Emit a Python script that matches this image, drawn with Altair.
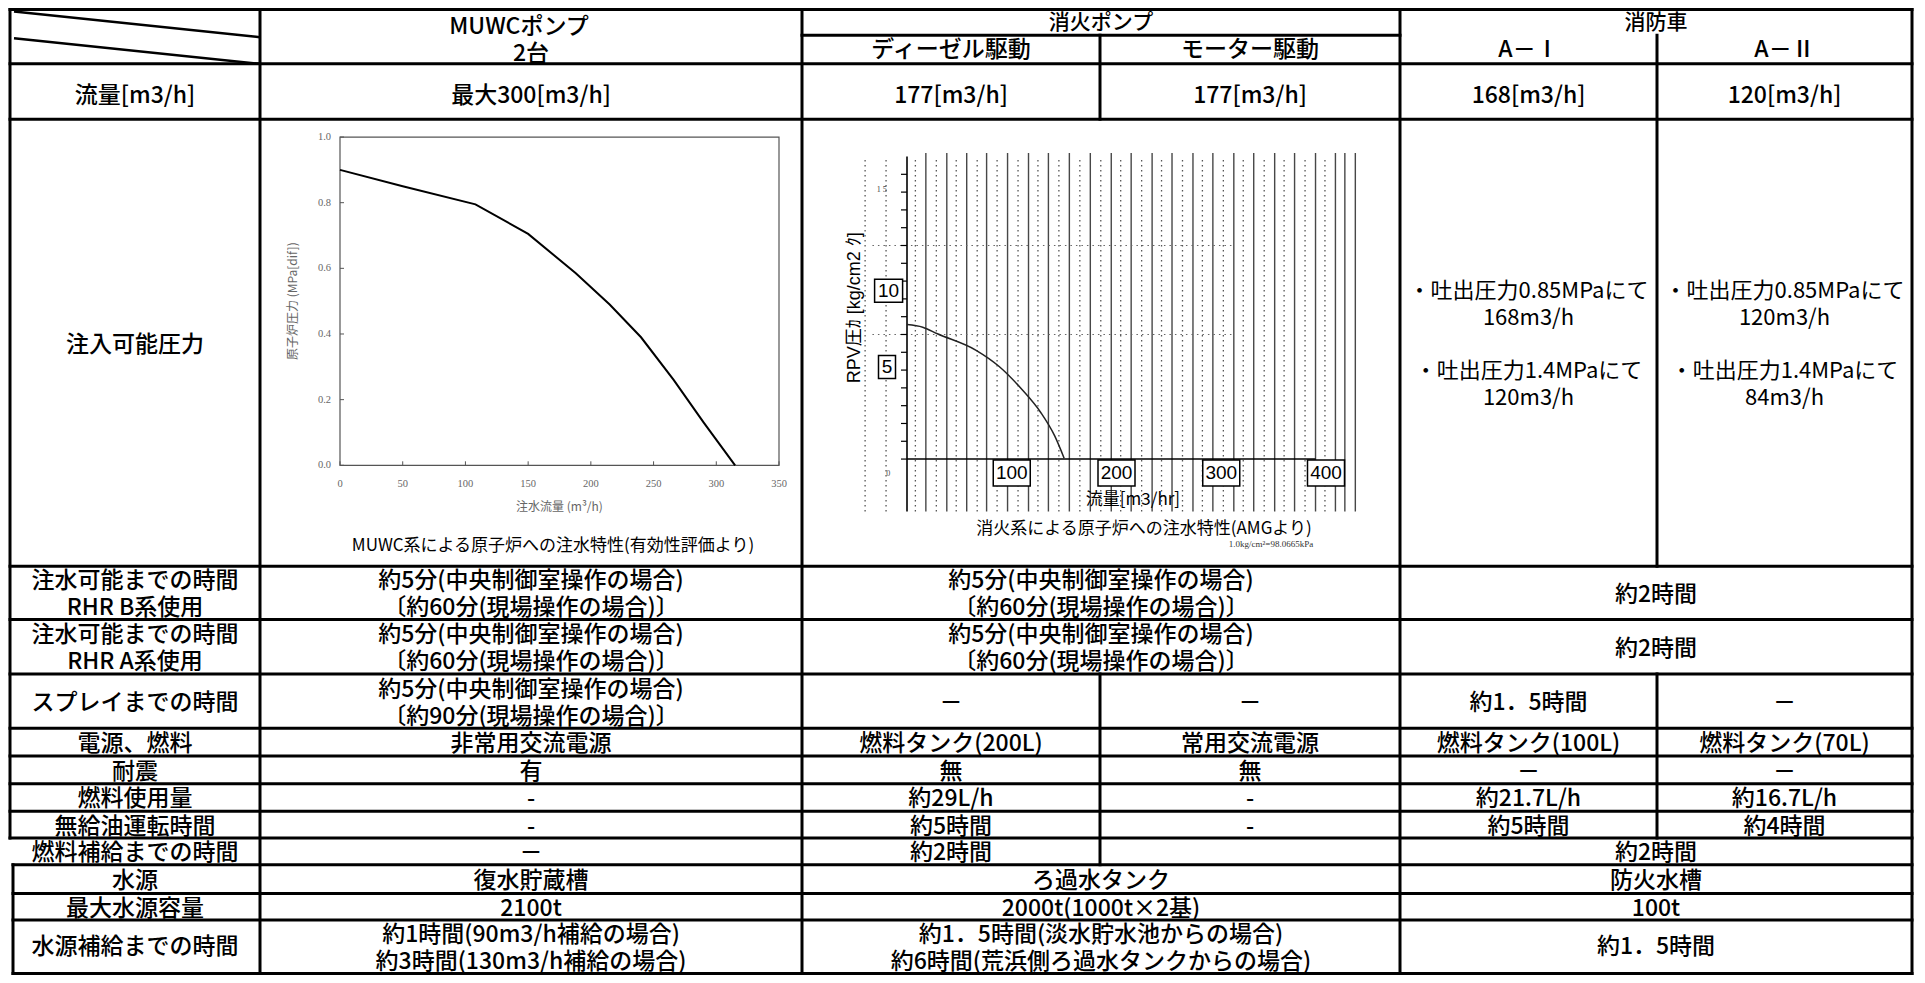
import altair as alt
import pandas as pd

# ================= values =================
# MUWC pump injection characteristic
muwc_flow = [0, 50, 108, 150, 188, 215, 240, 266, 290, 315]
muwc_press = [0.90, 0.85, 0.795, 0.705, 0.585, 0.49, 0.39, 0.26, 0.13, 0.0]
muwc_xticks = [0, 50, 100, 150, 200, 250, 300, 350]
muwc_yticks = [0.0, 0.2, 0.4, 0.6, 0.8, 1.0]
muwc_xtitle = "注水流量 (m³/h)"
muwc_ytitle = "原子炉圧力 (MPa[dif])"
muwc_caption = "MUWC系による原子炉への注水特性(有効性評価より)"

# fire pump injection characteristic (AMG)
fp_flow = [0, 15, 29, 66, 88, 110, 128, 141, 150]
fp_press = [7.56, 7.41, 7.04, 6.11, 5.2, 3.89, 2.59, 1.3, 0.05]
fp_xlabels = [100, 200, 300, 400]
fp_ylabel_hi = [10]
fp_ylabel_lo = [5]
fp_yticks = [0, 1, 2, 3, 4, 5, 6, 7, 8, 9, 10, 11, 12, 13, 14, 15, 16]
fp_grid_solid = [18, 38, 57, 76, 96, 116, 135, 155, 175, 195, 214, 234, 253,
                 273, 292, 312, 331, 351, 370, 390, 409, 418, 428]
fp_grid_dotted = [-40, -20, 8, 28, 47, 67, 86, 106, 125, 145, 165, 185, 204,
                  224, 243, 263, 282, 302, 321, 341, 360, 380, 399]
fp_hdotted = [12, 7]
fp_ytitle = "RPV圧ｶ  [kg/cm2 ｸ]"
fp_xtitle = "流量[m3/hr]"
fp_caption = "消火系による原子炉への注水特性(AMGより)"
fp_note = "1.0kg/cm²=98.0665kPa"

# table texts
head_top = ["MUWCポンプ", "2台", "消火ポンプ", "消防車"]
head_sub = ["ディーゼル駆動", "モーター駆動", "A－Ⅰ", "A－Ⅱ"]
row_titles = ["流量[m3/h]", "注入可能圧力", "注水可能までの時間\nRHR B系使用",
              "注水可能までの時間\nRHR A系使用", "スプレイまでの時間", "電源、燃料", "耐震",
              "燃料使用量", "無給油運転時間", "燃料補給までの時間", "水源", "最大水源容量",
              "水源補給までの時間"]
t60 = "約5分(中央制御室操作の場合)\n〔約60分(現場操作の場合)〕"
t90 = "約5分(中央制御室操作の場合)\n〔約90分(現場操作の場合)〕"
cells = [
    [("muwc", "最大300[m3/h]"), ("dsl", "177[m3/h]"), ("mot", "177[m3/h]"),
     ("a1", "168[m3/h]"), ("a2", "120[m3/h]")],
    [],
    [("muwc", t60), ("fp", t60), ("fe", "約2時間")],
    [("muwc", t60), ("fp", t60), ("fe", "約2時間")],
    [("muwc", t90), ("dsl", "－"), ("mot", "－"), ("a1", "約1．5時間"), ("a2", "－")],
    [("muwc", "非常用交流電源"), ("dsl", "燃料タンク(200L)"), ("mot", "常用交流電源"),
     ("a1", "燃料タンク(100L)"), ("a2", "燃料タンク(70L)")],
    [("muwc", "有"), ("dsl", "無"), ("mot", "無"), ("a1", "－"), ("a2", "－")],
    [("muwc", "-"), ("dsl", "約29L/h"), ("mot", "-"), ("a1", "約21.7L/h"), ("a2", "約16.7L/h")],
    [("muwc", "-"), ("dsl", "約5時間"), ("mot", "-"), ("a1", "約5時間"), ("a2", "約4時間")],
    [("muwc", "－"), ("dsl", "約2時間"), ("fe", "約2時間")],
    [("muwc", "復水貯蔵槽"), ("fp", "ろ過水タンク"), ("fe", "防火水槽")],
    [("muwc", "2100t"), ("fp", "2000t(1000t×2基)"), ("fe", "100t")],
    [("muwc", "約1時間(90m3/h補給の場合)\n約3時間(130m3/h補給の場合)"),
     ("fp", "約1．5時間(淡水貯水池からの場合)\n約6時間(荒浜側ろ過水タンクからの場合)"),
     ("fe", "約1．5時間")],
]
press_a1 = ["・吐出圧力0.85MPaにて\n168m3/h", "・吐出圧力1.4MPaにて\n120m3/h"]
press_a2 = ["・吐出圧力0.85MPaにて\n120m3/h", "・吐出圧力1.4MPaにて\n84m3/h"]

# ================= layout (reference pixel grid) =================
W, H = 1909, 967
X0 = 8.0
Y0, Y1 = 5.5, 983.5
LH = 27


def vx(r):
    return r - X0


def vy(r):
    return (r - Y0) * H / (Y1 - Y0)


XL, XLB, C1, C2, C3, C4, C5, XR = 10, 13, 260, 802, 1100, 1400, 1657, 1912
YT, YH1, YH2 = 7, 33, 62
ROWS = [62, 118, 570, 624, 679, 734, 762, 790, 818, 845, 872, 901, 928, 982]
ROW_SHIFT = [5, 2, 2, 2, 2, 2, 2, 2, 2, 2, 2, 2, 0]
MULTI_SHIFT = [0, 0, 0, 0, 0, 0, 0, 0, 0, 0, 0, 0, 2]
SPAN = {"lab": (XL, C1), "muwc": (C1, C2), "fp": (C2, C4), "dsl": (C2, C3),
        "mot": (C3, C4), "fe": (C4, XR), "a1": (C4, C5), "a2": (C5, XR)}


def first_line(yc, t, extra):
    # y of the first line so that a multi-line block is centred on yc
    n = t.count("\n")
    return yc - n * LH / 2 + (extra if n else 0)


segs = []
segs.append((XL, YT, XR, YT))
segs.append((C2, YH1, C4, YH1))
for yy in ROWS:
    segs.append((XLB if yy >= 872 else XL, yy, XR, yy))
segs.append((XL, YT, XL, 845))
segs.append((XLB, 872, XLB, 982))
for xx in (C1, C2, C4, XR):
    segs.append((xx, YT, xx, 982))
segs.append((C3, YH1, C3, 118))
segs.append((C3, 679, C3, 872))
segs.append((C5, YH1, C5, 570))
segs.append((C5, 679, C5, 845))
seg_df = pd.DataFrame(segs, columns=["x", "y", "x2", "y2"])
diag_df = pd.DataFrame([(XL + 4, 9, C1, 35), (XL + 4, 36, C1, 62)],
                       columns=["x", "y", "x2", "y2"])

txt = []
txt.append((519, 25, head_top[0]))
txt.append(((C1 + C2) / 2, 52, head_top[1]))
for key, t in zip(["dsl", "mot", "a1", "a2"], head_sub):
    a, b = SPAN[key]
    txt.append(((a + b) / 2, 48, t))
for i, title in enumerate(row_titles):
    yc = (ROWS[i] + ROWS[i + 1]) / 2 + ROW_SHIFT[i]
    txt.append(((XL + C1) / 2, first_line(yc, title, MULTI_SHIFT[i]), title))
    for key, t in cells[i]:
        a, b = SPAN[key]
        txt.append(((a + b) / 2, first_line(yc, t, MULTI_SHIFT[i]), t))
txt_df = pd.DataFrame(txt, columns=["x", "y", "t"])
top_df = pd.DataFrame([((C2 + C4) / 2, 21, head_top[2]), ((C4 + XR) / 2, 21, head_top[3])],
                      columns=["x", "y", "t"])

press_rows = []
for (a, b), blocks in (((C4, C5), press_a1), ((C5, XR), press_a2)):
    press_rows.append(((a + b) / 2, 292, blocks[0]))
    press_rows.append(((a + b) / 2, 373, blocks[1]))
press_df = pd.DataFrame(press_rows, columns=["x", "y", "t"])
cap_df = pd.DataFrame([(553, 550, muwc_caption), (1144, 532, fp_caption)],
                      columns=["x", "y", "t"])
note_df = pd.DataFrame([(1271, 548, fp_note)], columns=["x", "y", "t"])

# ================= table layer =================
tx = alt.Scale(domain=[X0, X0 + W], range=[0, W], nice=False, zero=False)
ty = alt.Scale(domain=[Y0, Y1], range=[0, H], nice=False, zero=False)


def txy():
    return dict(x=alt.X("x:Q", scale=tx, axis=None), y=alt.Y("y:Q", scale=ty, axis=None))


JP = "Noto Sans CJK JP"
rules = alt.Chart(seg_df).mark_rule(color="black", strokeWidth=3, strokeCap="square").encode(
    x2="x2:Q", y2="y2:Q", **txy())
diags = alt.Chart(diag_df).mark_rule(color="black", strokeWidth=2.5).encode(
    x2="x2:Q", y2="y2:Q", **txy())
texts = alt.Chart(txt_df).mark_text(font=JP, fontSize=23, fontWeight=500, lineBreak="\n",
                                    lineHeight=LH, baseline="middle", align="center",
                                    color="black").encode(text="t:N", **txy())
tops = alt.Chart(top_df).mark_text(font=JP, fontSize=21, fontWeight=500, baseline="middle",
                                   align="center", color="black").encode(text="t:N", **txy())
press = alt.Chart(press_df).mark_text(font=JP, fontSize=22, lineBreak="\n", lineHeight=LH,
                                      baseline="middle", align="center", color="black").encode(
    text="t:N", **txy())
caps = alt.Chart(cap_df).mark_text(font=JP, fontSize=17, baseline="middle", align="center",
                                   color="black").encode(text="t:N", **txy())
note = alt.Chart(note_df).mark_text(font="Liberation Serif", fontSize=9, baseline="middle",
                                    align="center", color="#333").encode(text="t:N", **txy())
table = alt.layer(rules, diags, texts, tops, press, caps, note)

# ================= MUWC chart layer =================
mx = alt.Scale(domain=[0, 350], range=[vx(340), vx(779)], nice=False, zero=False)
my = alt.Scale(domain=[0, 1], range=[vy(468), vy(136)], nice=False, zero=False)


def mxy(xf, yf):
    return dict(x=alt.X(xf, scale=mx, axis=None), y=alt.Y(yf, scale=my, axis=None))


muwc_df = pd.DataFrame({"flow": muwc_flow, "press": muwc_press})
frame_df = pd.DataFrame({"x0": [muwc_xticks[0]], "x1": [muwc_xticks[-1]],
                         "y0": [muwc_yticks[0]], "y1": [muwc_yticks[-1]]})
mxt_df = pd.DataFrame({"v": muwc_xticks, "z": 0.0, "t": [str(v) for v in muwc_xticks]})
myt_df = pd.DataFrame({"v": muwc_yticks, "z": 0.0, "t": [f"{v:.1f}" for v in muwc_yticks]})
mtitle_x = pd.DataFrame({"x": [(muwc_xticks[0] + muwc_xticks[-1]) / 2], "y": [0.0], "t": [muwc_xtitle]})
mtitle_y = pd.DataFrame({"x": [0.0], "y": [0.5], "t": [muwc_ytitle]})

frame = alt.Chart(frame_df).mark_rect(fillOpacity=0, stroke="#555", strokeWidth=1.2).encode(
    x2="x1:Q", y2="y1:Q", **mxy("x0:Q", "y0:Q"))
mticks_x = alt.Chart(mxt_df).mark_rule(color="#555", strokeWidth=1, y2Offset=-4).encode(
    y2="z:Q", **mxy("v:Q", "z:Q"))
mticks_y = alt.Chart(myt_df).mark_rule(color="#555", strokeWidth=1, x2Offset=4).encode(
    x2="z:Q", **mxy("z:Q", "v:Q"))
mlab_x = alt.Chart(mxt_df).mark_text(font="Liberation Serif", fontSize=10.5, color="#666",
                                     yOffset=19, baseline="middle", align="center").encode(
    text="t:N", **mxy("v:Q", "z:Q"))
mlab_y = alt.Chart(myt_df).mark_text(font="Liberation Serif", fontSize=10.5, color="#666",
                                     xOffset=-9, baseline="middle", align="right").encode(
    text="t:N", **mxy("z:Q", "v:Q"))
mtx = alt.Chart(mtitle_x).mark_text(font=JP, fontSize=12, color="#666", yOffset=42,
                                    baseline="middle", align="center").encode(
    text="t:N", **mxy("x:Q", "y:Q"))
mty = alt.Chart(mtitle_y).mark_text(font=JP, fontSize=12, color="#666", xOffset=-47, angle=270,
                                    baseline="middle", align="center").encode(
    text="t:N", **mxy("x:Q", "y:Q"))
muwc_line = alt.Chart(muwc_df).mark_line(color="black", strokeWidth=2).encode(
    **mxy("flow:Q", "press:Q"))
muwc = alt.layer(frame, mticks_x, mticks_y, mlab_x, mlab_y, mtx, mty, muwc_line)

# ================= fire pump chart layer =================
fx = alt.Scale(domain=[0, 400], range=[vx(907), vx(1326)], nice=False, zero=False)
fy = alt.Scale(domain=[0, 15], range=[vy(461.7), vy(191.7)], nice=False, zero=False)


def fxy(xf, yf):
    return dict(x=alt.X(xf, scale=fx, axis=None), y=alt.Y(yf, scale=fy, axis=None))


gs_df = pd.DataFrame({"v": fp_grid_solid, "top": 17.2, "bot": -2.95})
gd_df = pd.DataFrame({"v": fp_grid_dotted, "top": 16.8, "bot": -2.95})
hd_df = pd.DataFrame({"v": fp_hdotted, "a": -33.0, "b": 310.0})
yax_df = pd.DataFrame({"x0": [0.0], "top": [17.0], "bot": [-2.95]})
zero_df = pd.DataFrame({"y0": [0.0], "a": [0.0], "b": [390.0]})
ytk_df = pd.DataFrame({"v": fp_yticks, "z": 0.0})
fp_df = pd.DataFrame({"flow": fp_flow, "press": fp_press})
xl_df = pd.DataFrame({"v": fp_xlabels, "z": 0.0, "t": [str(v) for v in fp_xlabels]})
yl_hi_df = pd.DataFrame({"v": fp_ylabel_hi, "z": 0.0, "t": [str(v) for v in fp_ylabel_hi]})
yl_lo_df = pd.DataFrame({"v": fp_ylabel_lo, "z": 0.0, "t": [str(v) for v in fp_ylabel_lo]})
ft_df = pd.DataFrame({"x": [-49.6], "y": [8.5], "t": [fp_ytitle]})
fxt_df = pd.DataFrame({"x": [215.7], "y": [-2.3], "t": [fp_xtitle]})
small_df = pd.DataFrame({"x": [-24.0, -18.0], "y": [15.1, -0.85], "t": ["1 5", "0"]})

g_solid = alt.Chart(gs_df).mark_rule(color="#333", strokeWidth=1.4, opacity=0.9).encode(
    y2="bot:Q", **fxy("v:Q", "top:Q"))
g_dot = alt.Chart(gd_df).mark_rule(color="#555", strokeWidth=1.3, strokeDash=[1.5, 3.5]).encode(
    y2="bot:Q", **fxy("v:Q", "top:Q"))
h_dot = alt.Chart(hd_df).mark_rule(color="#666", strokeWidth=1.2, strokeDash=[1.5, 4]).encode(
    x2="b:Q", **fxy("a:Q", "v:Q"))
y_axis = alt.Chart(yax_df).mark_rule(color="black", strokeWidth=1.6).encode(
    y2="bot:Q", **fxy("x0:Q", "top:Q"))
y_ticks = alt.Chart(ytk_df).mark_rule(color="black", strokeWidth=1.2, x2Offset=-6).encode(
    x2="z:Q", **fxy("z:Q", "v:Q"))
zero_line = alt.Chart(zero_df).mark_rule(color="black", strokeWidth=1.6).encode(
    x2="b:Q", **fxy("a:Q", "y0:Q"))
fp_line = alt.Chart(fp_df).mark_line(color="#222", strokeWidth=1.5, interpolate="monotone").encode(
    **fxy("flow:Q", "press:Q"))
xl_box = alt.Chart(xl_df).mark_rect(fill="white", stroke="black", strokeWidth=1.5,
                                    xOffset=-18.5, x2Offset=18.5, yOffset=1, y2Offset=27).encode(
    x2="v:Q", y2="z:Q", **fxy("v:Q", "z:Q"))
xl_txt = alt.Chart(xl_df).mark_text(font="Liberation Sans", fontSize=19, yOffset=14,
                                    baseline="middle", align="center", color="black").encode(
    text="t:N", **fxy("v:Q", "z:Q"))
yh_box = alt.Chart(yl_hi_df).mark_rect(fill="white", stroke="black", strokeWidth=1.5,
                                       xOffset=-32.4, x2Offset=-4.4, yOffset=-1.8, y2Offset=21.2).encode(
    x2="z:Q", y2="v:Q", **fxy("z:Q", "v:Q"))
yh_txt = alt.Chart(yl_hi_df).mark_text(font="Liberation Sans", fontSize=19, xOffset=-18.4,
                                       yOffset=9.7, baseline="middle", align="center",
                                       color="black").encode(text="t:N", **fxy("z:Q", "v:Q"))
yl_box = alt.Chart(yl_lo_df).mark_rect(fill="white", stroke="black", strokeWidth=1.5,
                                       xOffset=-28.5, x2Offset=-11.5, yOffset=-14.7, y2Offset=8.3).encode(
    x2="z:Q", y2="v:Q", **fxy("z:Q", "v:Q"))
yl_txt = alt.Chart(yl_lo_df).mark_text(font="Liberation Sans", fontSize=19, xOffset=-20,
                                       yOffset=-3.2, baseline="middle", align="center",
                                       color="black").encode(text="t:N", **fxy("z:Q", "v:Q"))
f_ytitle = alt.Chart(ft_df).mark_text(font="Liberation Sans, Noto Sans CJK JP", fontSize=18, angle=270,
                                      baseline="middle", align="center", color="black").encode(
    text="t:N", **fxy("x:Q", "y:Q"))
f_xtitle = alt.Chart(fxt_df).mark_text(font=JP, fontSize=17, baseline="middle", align="center",
                                       color="black").encode(text="t:N", **fxy("x:Q", "y:Q"))
f_small = alt.Chart(small_df).mark_text(font="Liberation Serif", fontSize=8, baseline="middle",
                                        align="center", color="#444").encode(
    text="t:N", **fxy("x:Q", "y:Q"))
fire = alt.layer(g_solid, g_dot, h_dot, y_axis, y_ticks, zero_line, fp_line,
                 xl_box, xl_txt, yh_box, yh_txt, yl_box, yl_txt, f_ytitle, f_xtitle, f_small)

chart = alt.layer(table, muwc, fire).resolve_scale(
    x="independent", y="independent"
).properties(
    width=W, height=H, padding=0, background="white",
    autosize=alt.AutoSizeParams(type="none")
).configure_view(strokeWidth=0)

chart.save("out.html", embed_options={"renderer": "svg", "actions": False})
